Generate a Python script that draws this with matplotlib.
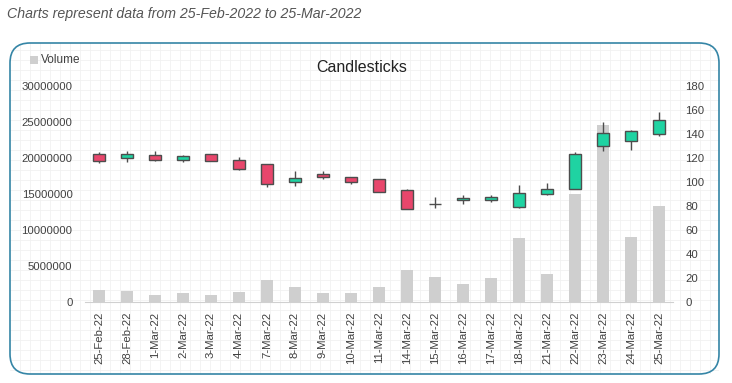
import numpy as np
import matplotlib
matplotlib.use("Agg")
import matplotlib.pyplot as plt
from matplotlib.patches import FancyBboxPatch, Rectangle

# fonts: narrow sans if available
plt.rcParams['font.family'] = ['Liberation Sans Narrow', 'Liberation Sans', 'DejaVu Sans']

# data
dates = ['25-Feb-22', '28-Feb-22', '1-Mar-22', '2-Mar-22', '3-Mar-22', '4-Mar-22',
         '7-Mar-22', '8-Mar-22', '9-Mar-22', '10-Mar-22', '11-Mar-22', '14-Mar-22',
         '15-Mar-22', '16-Mar-22', '17-Mar-22', '18-Mar-22', '21-Mar-22', '22-Mar-22',
         '23-Mar-22', '24-Mar-22', '25-Mar-22']
open_ = [123.3, 120.3, 122.5, 118.6, 123.3, 118.2, 114.7, 100.3, 106.4, 103.9, 102.2,
         93.1, 82.0, 84.7, 84.7, 79.4, 89.7, 94.4, 129.7, 133.9, 139.7]
high = [124.7, 125.8, 125.8, 122.5, 123.5, 120.6, 114.9, 108.9, 108.9, 104.1, 102.4,
        93.9, 87.2, 89.4, 88.9, 97.2, 98.9, 125.3, 150.3, 143.3, 158.1]
low = [116.0, 116.4, 117.8, 116.4, 117.5, 110.3, 95.6, 96.4, 102.8, 98.1, 91.7,
       77.6, 78.1, 81.4, 83.6, 78.6, 89.5, 93.9, 126.1, 126.4, 138.1]
close = [117.7, 123.3, 118.6, 121.7, 117.8, 111.1, 98.6, 103.1, 104.4, 100.3, 91.9,
         77.8, 81.9, 86.7, 87.2, 90.6, 93.9, 123.1, 140.6, 142.2, 151.4]
volume = [1670000, 1530000, 970000, 1250000, 970000, 1390000, 3060000, 2080000,
          1250000, 1250000, 2080000, 4440000, 3470000, 2500000, 3330000, 8890000,
          3890000, 15000000, 24600000, 9030000, 13300000]

W, H = 732, 383
fig = plt.figure(figsize=(W / 100, H / 100), dpi=100)

# subtitle
fig.text(7 / W, 1 - 14 / H, 'Charts represent data from 25-Feb-2022 to 25-Mar-2022',
         fontsize=10.2, style='italic', color='#555555', va='center', ha='left')

# graph paper background inside the box
bx0, bx1, by0, by1 = 10, 719, 43, 374
bg = fig.add_axes([bx0 / W, 1 - by1 / H, (bx1 - bx0) / W, (by1 - by0) / H])
bg.set_xlim(bx0, bx1)
bg.set_ylim(by1, by0)
for gx in range(20, bx1, 10):
    bg.axvline(gx, color='#f1f1f1', lw=0.6, zorder=0)
for gy in range(50, by1, 10):
    bg.axhline(gy, color='#f1f1f1', lw=0.6, zorder=0)
bg.axis('off')

box = FancyBboxPatch((bx0 / 100, (H - by1) / 100), (bx1 - bx0) / 100, (by1 - by0) / 100,
                     boxstyle='round,pad=0,rounding_size=0.2',
                     transform=fig.dpi_scale_trans, facecolor='none',
                     edgecolor='#3585a6', lw=1.2)
fig.add_artist(box)

# main axes
x = np.arange(len(dates))
ax = fig.add_axes([85 / W, 1 - 302 / H, 588 / W, 216 / H])
ax.patch.set_alpha(0)
ax.bar(x, volume, width=0.4, color='#cfcfcf', zorder=1)
ax.set_xlim(-0.5, len(dates) - 0.5)
ax.set_ylim(0, 30000000)
ax.set_yticks(np.arange(0, 30000001, 5000000))
ax.set_yticklabels([str(v) for v in range(0, 30000001, 5000000)])
ax.set_xticks(x)
ax.set_xticklabels(dates, rotation=90)
ax.tick_params(length=0, labelsize=8.2, labelcolor='#404040')
ax.tick_params(axis='x', pad=7)
ax.tick_params(axis='y', pad=9)
for s in ['top', 'right', 'left']:
    ax.spines[s].set_visible(False)
ax.spines['bottom'].set_color('#d0d0d0')

ax2 = ax.twinx()
ax2.set_ylim(0, 180)
ax2.set_yticks(range(0, 181, 20))
ax2.tick_params(length=0, labelsize=8.2, labelcolor='#404040', pad=9)
for s in ax2.spines.values():
    s.set_visible(False)

red, green, edge = '#e8466c', '#1fd3a2', '#4d4d4d'
for i in x:
    ax2.vlines(i, low[i], high[i], color=edge, lw=1, zorder=2)
    bottom = min(open_[i], close[i])
    height = abs(close[i] - open_[i])
    col = green if close[i] >= open_[i] else red
    ax2.bar(i, height, bottom=bottom, width=0.45, color=col, edgecolor=edge,
            lw=1, zorder=3)

# title and legend
fig.text(362 / W, 1 - 68 / H, 'Candlesticks', fontsize=11.5, color='#222222',
         ha='center', va='center')
fig.add_artist(Rectangle((30 / W, 1 - 64 / H), 8 / W, 8 / H, transform=fig.transFigure,
                         facecolor='#cfcfcf', edgecolor='none'))
fig.text(41 / W, 1 - 60 / H, 'Volume', fontsize=8.5, color='#404040', va='center')

fig.savefig('out.png', dpi=100)
